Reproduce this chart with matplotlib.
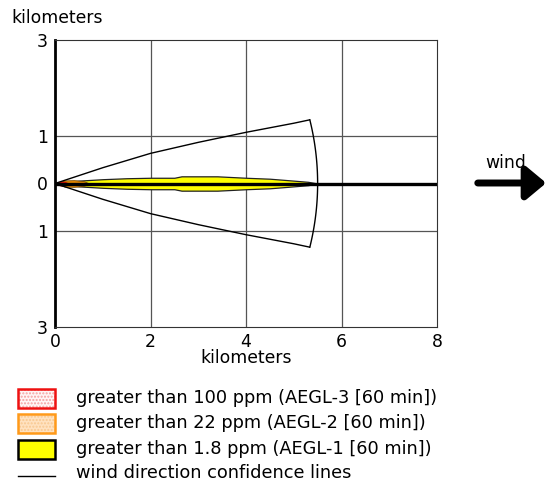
import matplotlib
matplotlib.use("Agg")
import matplotlib.pyplot as plt
from matplotlib.patches import Rectangle, FancyArrowPatch
from matplotlib.lines import Line2D
import numpy as np

plt.rcParams['font.family'] = ['DejaVu Sans']

# Data (km)
conf_x = [0.0, 1.0, 2.0, 3.0, 4.0, 5.0, 5.33]
conf_y = [0.0, 0.33, 0.63, 0.86, 1.07, 1.26, 1.33]
arc_radius = 5.5

yellow_x = [0.0, 0.5, 1.0, 1.5, 2.0, 2.5, 2.65, 3.4, 4.0, 4.5, 5.0, 5.3, 5.5]
yellow_hw = [0.0, 0.06, 0.09, 0.11, 0.12, 0.12, 0.15, 0.15, 0.12, 0.10, 0.06, 0.035, 0.0]
orange_x = [0.0, 0.2, 0.4, 0.6, 0.72]
orange_hw = [0.0, 0.065, 0.07, 0.05, 0.0]
red_x = [0.0, 0.1, 0.2, 0.3]
red_hw = [0.0, 0.04, 0.035, 0.0]

xticks = [0, 2, 4, 6, 8]
yticks = [-3, -1, 0, 1, 3]
ytick_labels = ['3', '1', '0', '1', '3']

legend_labels = ['greater than 100 ppm (AEGL-3 [60 min])',
                 'greater than 22 ppm (AEGL-2 [60 min])',
                 'greater than 1.8 ppm (AEGL-1 [60 min])',
                 'wind direction confidence lines']

W, H = 550, 483
fig = plt.figure(figsize=(W / 100, H / 100), dpi=100)
ax = fig.add_axes([55 / W, 1 - 327 / H, 382 / W, 287 / H])
ax.set_xlim(0, 8)
ax.set_ylim(-3, 3)

# grid
for gx in [2, 4, 6]:
    ax.axvline(gx, color='#555555', lw=0.9, zorder=1)
for gy in [-1, 1]:
    ax.axhline(gy, color='#555555', lw=0.9, zorder=1)

# plumes
yx = np.array(yellow_x); yh = np.array(yellow_hw)
ax.fill_between(yx, -yh, yh, facecolor='#FFFF00', edgecolor='#222222', lw=0.9, zorder=3)
ox = np.array(orange_x); oh = np.array(orange_hw)
ax.fill_between(ox, -oh, oh, facecolor='#E88A00', edgecolor='#7a4a00', lw=0.6, zorder=4)
rx = np.array(red_x); rh = np.array(red_hw)
ax.fill_between(rx, -rh, rh, facecolor='#FF2000', edgecolor='#cc0000', lw=0.6, zorder=5)

# centerline
ax.plot([0, 8], [0, 0], color='black', lw=2.4, zorder=6)

# confidence lines
cx = np.array(conf_x); cy = np.array(conf_y)
ax.plot(cx, cy, color='black', lw=1.0, zorder=7)
ax.plot(cx, -cy, color='black', lw=1.0, zorder=7)
th_end = np.arctan2(conf_y[-1], conf_x[-1])
th = np.linspace(-th_end, th_end, 60)
ax.plot(arc_radius * np.cos(th), arc_radius * np.sin(th), color='black', lw=1.0, zorder=7)

ax.set_xticks(xticks)
ax.set_xticklabels([str(t) for t in xticks], fontsize=12.4)
ax.set_yticks(yticks)
ax.set_yticklabels(ytick_labels, fontsize=12.4)
ax.tick_params(axis='x', length=0, pad=4)
ax.tick_params(axis='y', length=0, pad=5)
ax.set_xlabel('kilometers', fontsize=12.4, labelpad=-1)
for s in ['top', 'right', 'bottom']:
    ax.spines[s].set_linewidth(0.8)
    ax.spines[s].set_color('#333333')
ax.spines['left'].set_linewidth(2.0)
ax.spines['left'].set_color('black')

fig.text(57 / W, 1 - 18 / H, 'kilometers', fontsize=12.4, ha='center', va='center')

# wind arrow
fig.text(506 / W, 1 - 163 / H, 'wind', fontsize=12.4, ha='center', va='center')
fig.patches.append(FancyArrowPatch(
    (475 / W, 1 - 183 / H), (549 / W, 1 - 183 / H), transform=fig.transFigure,
    arrowstyle='-|>,head_length=6,head_width=5', mutation_scale=2,
    color='black', lw=5, capstyle='round'))

# legend
rows_y = [398, 423, 449, 473]
patch_styles = [
    dict(facecolor='#fff6f6', hatchcolor='#f5a0a0', edgecolor='#ee1111', hatch='.....'),
    dict(facecolor='#ffe2c0', hatchcolor='#f8c890', edgecolor='#ff9a1a', hatch='.....'),
    dict(facecolor='#FFFF00', hatchcolor='#FFFF00', edgecolor='black', hatch=None),
]
for i, st in enumerate(patch_styles):
    yc = rows_y[i]
    xy = (18 / W, 1 - (yc + 9.5) / H)
    w, h = 37 / W, 19 / H
    fig.patches.append(Rectangle(xy, w, h, transform=fig.transFigure,
                                 facecolor=st['facecolor'], edgecolor=st['hatchcolor'],
                                 hatch=st['hatch'], lw=0))
    fig.patches.append(Rectangle(xy, w, h, transform=fig.transFigure,
                                 facecolor='none', edgecolor=st['edgecolor'], lw=1.8))
fig.lines.append(Line2D([18 / W, 55 / W], [1 - 476 / H, 1 - 476 / H], transform=fig.transFigure,
                        color='black', lw=1.0))
for i, lab in enumerate(legend_labels):
    fig.text(76 / W, 1 - rows_y[i] / H, lab, fontsize=12.8, ha='left', va='center')

fig.savefig('out.png', dpi=100)
